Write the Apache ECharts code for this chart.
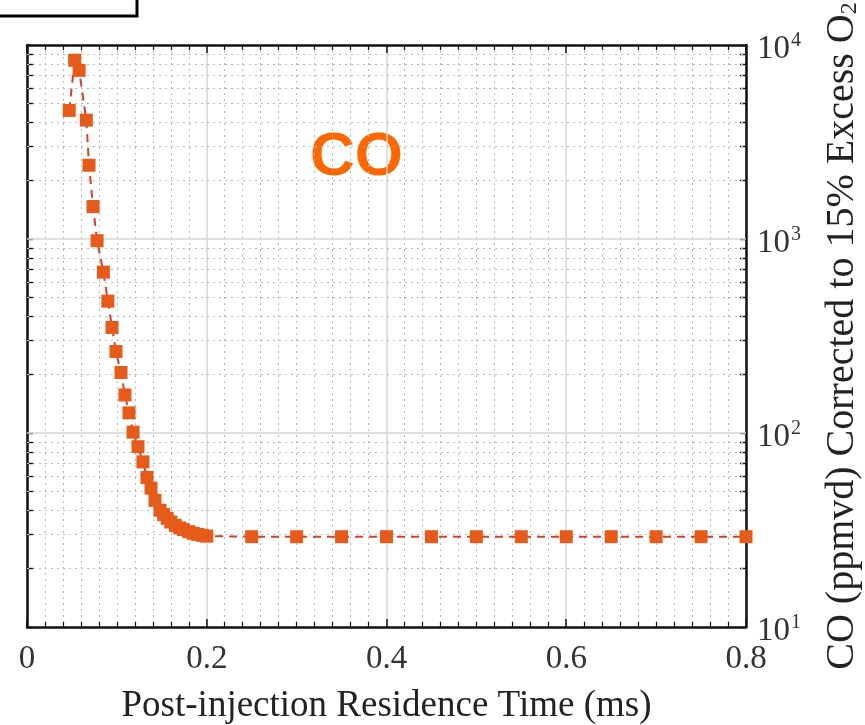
<!DOCTYPE html>
<html>
<head>
<meta charset="utf-8">
<script src="https://cdn.jsdelivr.net/npm/echarts@6/dist/echarts.min.js"></script>
<style>
html,body{margin:0;padding:0;background:#fff;}
#chart{width:865px;height:725px;}
</style>
</head>
<body>
<div id="chart"></div>
<script>
// ---- data ----
const timeMs = [0.047, 0.053, 0.058, 0.066, 0.069, 0.0735, 0.078, 0.085, 0.090, 0.0946, 0.099, 0.1046, 0.109, 0.1135, 0.118, 0.1235, 0.129, 0.1335, 0.138, 0.1424, 0.148, 0.152, 0.156, 0.160, 0.165, 0.170, 0.174, 0.180, 0.185, 0.190, 0.195, 0.200,
  0.25, 0.30, 0.35, 0.40, 0.45, 0.50, 0.55, 0.60, 0.65, 0.70, 0.75, 0.80];
const coPpmvd = [4600, 8350, 7400, 4100, 2400, 1470, 980, 675, 478, 350, 263, 205, 157, 127, 101, 85, 71, 59, 52, 45, 40, 38, 36.3, 34.8, 33.4, 32.4, 31.8, 31.0, 30.4, 30.0, 29.7, 29.4,
  29.2, 29.2, 29.2, 29.2, 29.2, 29.2, 29.2, 29.2, 29.2, 29.2, 29.2, 29.2];
const xTickInterval = 0.2;
const xRange = [0, 0.8];
const yRange = [10, 10000];
const yMajorGrid = [100, 1000];
const yMinorValues = [20, 30, 40, 50, 60, 70, 80, 90, 200, 300, 400, 500, 600, 700, 800, 900, 2000, 3000, 4000, 5000, 6000, 7000, 8000, 9000];
const yAllTicks = [10, 20, 30, 40, 50, 60, 70, 80, 90, 100, 200, 300, 400, 500, 600, 700, 800, 900, 1000, 2000, 3000, 4000, 5000, 6000, 7000, 8000, 9000, 10000];
const xAxisTitle = 'Post-injection Residence Time (ms)';
const speciesLabel = 'CO';

const serif = '"Liberation Serif", "Times New Roman", serif';
const chart = echarts.init(document.getElementById('chart'), null, {renderer: 'canvas'});

const baseX = {
  type: 'value', min: xRange[0], max: xRange[1], interval: xTickInterval,
  axisLine: {show: true, onZero: false, lineStyle: {color: '#111', width: 2.5}},
  axisTick: {show: true, inside: true, length: 8, lineStyle: {color: '#111', width: 1.5}},
  minorTick: {show: true, splitNumber: 10, length: 5, lineStyle: {color: '#111', width: 1.2}},
};
function baseY(extra) {
  return Object.assign({
    type: 'log', logBase: 10, min: yRange[0], max: yRange[1],
    axisLine: {show: true, onZero: false, lineStyle: {color: '#111', width: 2.5}},
    axisTick: {show: true, inside: true, length: 6, customValues: yAllTicks, lineStyle: {color: '#111', width: 1.4}},
    axisLabel: {show: false},
    splitLine: {show: false}
  }, extra);
}

const option = {
  animation: false,
  backgroundColor: '#fff',
  grid: {left: 27, right: 119, top: 45, bottom: 98, containLabel: false, outerBoundsMode: 'none'},
  xAxis: [
    Object.assign({}, baseX, {
      position: 'bottom',
      name: xAxisTitle, nameLocation: 'middle', nameGap: 61,
      nameTextStyle: {fontFamily: serif, fontSize: 37, color: '#222'},
      axisLabel: {show: true, margin: 16, fontFamily: serif, fontSize: 33, color: '#333',
        formatter: v => (v === 0 ? '0' : String(+v.toFixed(1)))},
      splitLine: {show: true, lineStyle: {color: '#d6d6d6', width: 1.5}},
      minorSplitLine: {show: true, lineStyle: {color: '#b8b8b8', width: 1, type: [2, 4]}}
    }),
    Object.assign({}, baseX, {
      position: 'top', axisLabel: {show: false}, splitLine: {show: false}, minorSplitLine: {show: false}
    })
  ],
  yAxis: [
    baseY({
      position: 'right',
      name: '{n|CO (ppmvd) Corrected to 15% Excess O}{sub|2}',
      nameLocation: 'middle', nameRotate: 90, nameGap: 76,
      nameTextStyle: {
        fontFamily: serif, fontSize: 40, color: '#222',
        rich: {
          n: {fontFamily: serif, fontSize: 40, color: '#222'},
          sub: {fontFamily: serif, fontSize: 24, color: '#222', padding: [16, 0, 0, 0]}
        }
      },
      axisLabel: {
        show: true, margin: 11, padding: [9, 0, 0, 0],
        formatter: v => '{b|10}{s|' + Math.round(Math.log10(v)) + '}',
        rich: {
          b: {fontFamily: serif, fontSize: 33, color: '#333'},
          s: {fontFamily: serif, fontSize: 20, color: '#333', padding: [0, 0, 17, 1]}
        }
      }
    }),
    baseY({position: 'left'})
  ],
  series: [
    {
      name: 'minor grid', type: 'line', data: [], xAxisIndex: 0, yAxisIndex: 0, z: 1, silent: true,
      markLine: {
        silent: true, symbol: 'none', label: {show: false}, animation: false,
        lineStyle: {color: '#b8b8b8', width: 1, type: [2, 4]},
        data: yMinorValues.map(v => ({yAxis: v}))
      }
    },
    {
      name: 'major grid', type: 'line', data: [], xAxisIndex: 0, yAxisIndex: 0, z: 1, silent: true,
      markLine: {
        silent: true, symbol: 'none', label: {show: false}, animation: false,
        lineStyle: {color: '#d6d6d6', width: 1.5, type: 'solid'},
        data: yMajorGrid.map(v => ({yAxis: v}))
      }
    },
    {
      name: 'CO', type: 'line', xAxisIndex: 0, yAxisIndex: 0, z: 5,
      data: timeMs.map((t, i) => [t, coPpmvd[i]]),
      symbol: 'rect', symbolSize: 13,
      itemStyle: {color: '#E65A1A'},
      lineStyle: {color: '#D2402E', width: 2, type: [8, 6]},
      clip: false
    }
  ],
  graphic: [
    {type: 'rect', shape: {x: -6, y: -6, width: 143, height: 22}, style: {fill: '#fff', stroke: '#000', lineWidth: 3}},
    {type: 'text', left: 310, top: 127, style: {text: speciesLabel, font: 'bold 62px "Liberation Sans", Arial, sans-serif', fill: '#FF6600'}}
  ]
};
chart.setOption(option);
</script>
</body>
</html>
